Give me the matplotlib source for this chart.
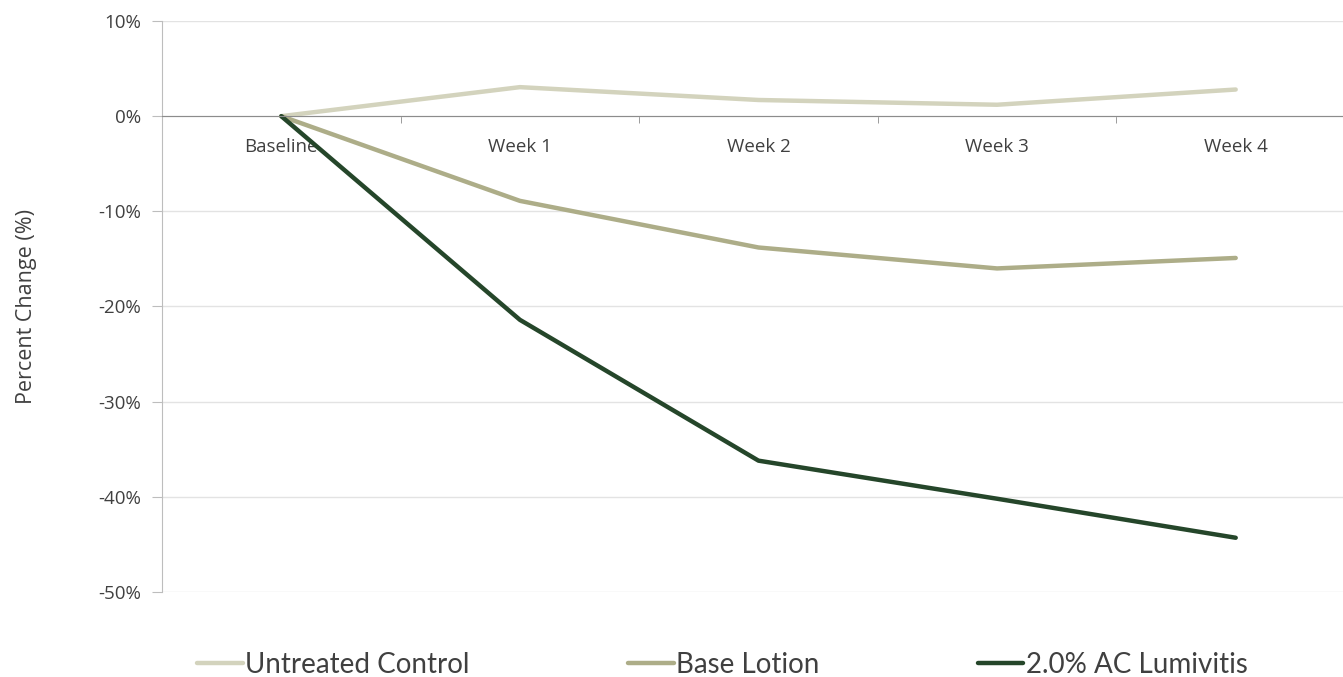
import matplotlib
matplotlib.use("Agg")
import matplotlib.pyplot as plt
from matplotlib.ticker import FixedLocator, FuncFormatter

# data
categories = ["Baseline", "Week 1", "Week 2", "Week 3", "Week 4"]
untreated = [0.0, 3.05, 1.7, 1.2, 2.8]
base_lotion = [0.0, -8.9, -13.8, -16.0, -14.9]
ac_lumivitis = [0.0, -21.4, -36.2, -40.2, -44.3]

series_names = ["Untreated Control", "Base Lotion", "2.0% AC Lumivitis"]
series_colors = ["#D3D3BD", "#ADAD88", "#25462A"]

W, H = 1343, 677
fig = plt.figure(figsize=(W / 100, H / 100), dpi=100)
ax = fig.add_axes([162 / W, 1 - 592 / H, (1355 - 162) / W, (592 - 21) / H])

x = range(len(categories))
handles = []
for vals, name, col in zip([untreated, base_lotion, ac_lumivitis], series_names, series_colors):
    h, = ax.plot(x, vals, color=col, lw=3.2, solid_capstyle="round", label=name)
    handles.append(h)

ax.set_xlim(-0.5, 4.5)
ax.set_ylim(-50, 10)
ax.yaxis.set_major_locator(FixedLocator(range(-50, 11, 10)))
ax.yaxis.set_major_formatter(FuncFormatter(lambda v, p: f"{v:.0f}%"))
ax.grid(axis="y", color="#E3E3E3", lw=1)
ax.set_axisbelow(True)

# x axis sits at zero, labels centred on categories, ticks between them
ax.spines["bottom"].set_position(("data", 0))
ax.spines["bottom"].set_color("#8C8C8C")
ax.spines["left"].set_color("#BDBDBD")
ax.spines["top"].set_visible(False)
ax.spines["right"].set_visible(False)
ax.set_xticks(list(x))
ax.set_xticklabels(categories)
ax.set_xticks([0.5, 1.5, 2.5, 3.5], minor=True)
ax.tick_params(axis="x", which="major", length=0, pad=16, labelsize=13.5, labelcolor="#404040")
ax.tick_params(axis="x", which="minor", length=5, direction="out", color="#8C8C8C")
ax.tick_params(axis="y", length=7, color="#BDBDBD", labelsize=13.5, labelcolor="#404040", pad=8)

for lab in ax.get_xticklabels() + ax.get_yticklabels():
    lab.set_family("Open Sans")

ax.set_ylabel("Percent Change (%)", fontsize=15.5, color="#404040", family="Open Sans",
              labelpad=44)

fig.legend(handles=handles, labels=series_names, loc="center left",
           bbox_to_anchor=(183 / W, 12 / H), ncol=3, frameon=False,
           borderpad=0, handlelength=1.65, handletextpad=0.08, columnspacing=5.7,
           prop={"family": "Lato", "size": 20})
for t in fig.legends[0].get_texts():
    t.set_color("#404040")

fig.savefig("out.png", dpi=100)
